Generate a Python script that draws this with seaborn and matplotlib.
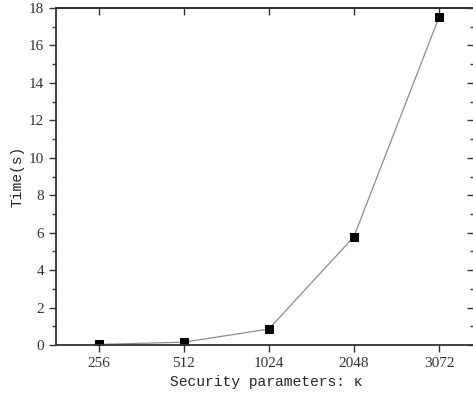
import matplotlib
matplotlib.use("Agg")
import matplotlib.pyplot as plt
import seaborn as sns
import pandas as pd
from matplotlib.ticker import MultipleLocator

# =====================================
# Data
# =====================================

security_params = ["256", "512", "1024", "2048", "3072"]
time_seconds = [0.03, 0.15, 0.85, 5.78, 17.5]

df = pd.DataFrame({"kappa": security_params, "time": time_seconds})

# =====================================
# Plot
# =====================================

sns.set_style("ticks")
plt.rcParams["font.family"] = ["Liberation Serif", "DejaVu Serif"]

W, H = 473, 398
fig = plt.figure(figsize=(W / 100, H / 100), dpi=100)
# right spine sits just outside the picture, as in the reference
ax = fig.add_axes([56 / W, 53 / H, 420 / W, 337 / H])

sns.lineplot(
    data=df,
    x="kappa",
    y="time",
    sort=False,
    color="#8c8c8c",
    linewidth=0.9,
    marker="s",
    markersize=6,
    markerfacecolor="black",
    markeredgecolor="black",
    ax=ax,
)

ax.set_xlim(-0.5, 4.435)
ax.set_ylim(0, 18)
ax.yaxis.set_major_locator(MultipleLocator(2))
ax.yaxis.set_minor_locator(MultipleLocator(1))

mono = ["Liberation Mono", "DejaVu Sans Mono"]
ax.set_xlabel("Security parameters: κ", fontsize=10.5, family=mono, labelpad=4)
ax.set_ylabel("Time(s)", fontsize=10.5, family=mono, labelpad=3)

for side in ["left", "right", "top", "bottom"]:
    ax.spines[side].set_visible(True)
    ax.spines[side].set_color("#333333")
    ax.spines[side].set_linewidth(1.3)

ax.tick_params(axis="both", which="major", direction="out", length=5,
               width=1.0, color="#333333", labelsize=11, labelcolor="#333333")
ax.tick_params(axis="y", which="minor", direction="out", length=3,
               width=1.0, color="#333333")

# inward ticks on top and right
top = ax.secondary_xaxis("top")
top.set_xticks(range(len(security_params)))
top.set_xticklabels([])
top.tick_params(direction="in", length=5, width=1.0, color="#333333")
top.spines["top"].set_color("#333333")
top.spines["top"].set_linewidth(1.3)

right = ax.secondary_yaxis("right")
right.yaxis.set_major_locator(MultipleLocator(2))
right.yaxis.set_minor_locator(MultipleLocator(1))
right.set_yticklabels([])
right.tick_params(which="major", direction="in", length=6.5, width=1.0, color="#333333")
right.tick_params(which="minor", direction="in", length=4.3, width=1.0, color="#333333")

fig.savefig("out.png", dpi=100)
